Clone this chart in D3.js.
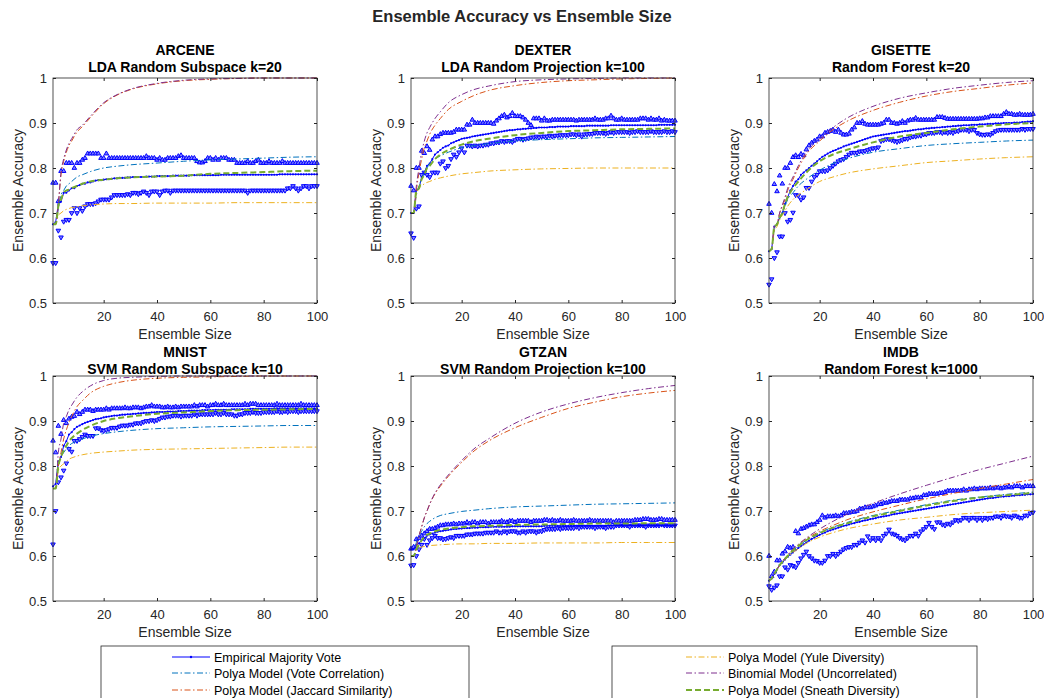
<!doctype html>
<html>
<head>
<meta charset="UTF-8">
<title>Ensemble Accuracy vs Ensemble Size</title>
<script src="https://cdn.jsdelivr.net/npm/d3@7"></script>
<style>
    body { margin: 0; background: #fff; }
    svg text { font-family: "Liberation Sans", Arial, Helvetica, sans-serif; fill: #262626; }
</style>
</head>
<body>
<svg id="fig"></svg>
<script>
// ---- data ----
var datasets = ["ARCENE", "DEXTER", "GISETTE", "MNIST", "GTZAN", "IMDB"];
var methods = ["LDA Random Subspace k=20", "LDA Random Projection k=100", "Random Forest k=20",
               "SVM Random Subspace k=10", "SVM Random Projection k=100", "Random Forest k=1000"];
var xTicks = [20, 40, 60, 80, 100];
var yTicks = [0.5, 0.6, 0.7, 0.8, 0.9, 1];
var legendNames = ["Empirical Majority Vote", "Polya Model (Vote Correlation)", "Polya Model (Jaccard Similarity)",
                   "Polya Model (Yule Diversity)", "Binomial Model (Uncorrelated)", "Polya Model (Sneath Diversity)"];
// ensemble sizes where the model curves were read
var modelX = [1, 2, 3, 4, 5, 6, 7, 8, 10, 12, 15, 20, 25, 30, 40, 50, 60, 70, 80, 90, 100];

// ARCENE
var arceneUpper = [.767,.767,.726,.793,.793,.811,.811,.811,.80,.811,
    .811,.818,.822,.832,.832,.832,.832,.832,.822,.822,
    .832,.822,.822,.822,.822,.822,.822,.822,.822,.822,
    .822,.822,.822,.822,.822,.826,.822,.822,.822,.818,
    .822,.818,.818,.822,.822,.822,.822,.826,.828,.822,
    .822,.822,.822,.822,.815,.812,.812,.815,.822,.822,
    .818,.822,.818,.822,.822,.822,.818,.818,.818,.811,
    .811,.811,.811,.815,.811,.811,.815,.818,.811,.811,
    .811,.815,.811,.811,.811,.811,.815,.811,.811,.811,
    .811,.811,.811,.811,.811,.811,.811,.811,.811,.811];
var arceneMean = [.675,.68,.72,.725,.745,.745,.75,.755,.755,.76,
    .762,.765,.765,.768,.768,.77,.772,.773,.773,.774,
    .775,.775,.776,.777,.777,.778,.778,.778,.779,.779,
    .78,.78,.78,.78,.78,.781,.781,.781,.781,.782,
    .782,.782,.782,.782,.782,.783,.783,.783,.783,.783,
    .783,.783,.784,.784,.784,.784,.784,.784,.784,.784,
    .784,.784,.784,.785,.785,.785,.785,.785,.785,.785,
    .785,.785,.785,.785,.785,.785,.785,.785,.785,.785,
    .785,.785,.785,.785,.785,.786,.786,.786,.786,.786,
    .786,.786,.786,.786,.786,.786,.786,.786,.786,.786];
var arceneLower = [.589,.589,.661,.646,.681,.685,.685,.70,.711,.70,
    .711,.705,.715,.72,.72,.72,.722,.726,.73,.73,
    .73,.73,.735,.74,.74,.74,.74,.74,.742,.74,
    .745,.745,.742,.745,.748,.745,.74,.748,.748,.748,
    .74,.748,.75,.75,.745,.75,.75,.75,.75,.75,
    .75,.75,.75,.75,.75,.75,.75,.75,.75,.75,
    .75,.75,.75,.75,.75,.75,.75,.75,.75,.75,
    .75,.75,.75,.745,.75,.75,.75,.75,.75,.75,
    .75,.75,.75,.75,.75,.75,.75,.75,.755,.755,
    .76,.755,.75,.755,.76,.76,.755,.76,.76,.76];
var arceneVote = [.675,.675,.71,.74,.75,.76,.765,.77,.78,.785,.792,.80,.804,.807,.811,.815,.818,.82,.822,.824,.825];
var arceneJaccard = [.675,.675,.72,.785,.815,.835,.85,.86,.88,.892,.912,.943,.962,.974,.987,.994,.997,.999,1,1,1];
var arceneYule = [.675,.675,.695,.70,.705,.708,.71,.712,.714,.716,.718,.72,.721,.721,.722,.722,.722,.723,.723,.723,.723];
var arceneBinom = [.675,.675,.72,.79,.82,.84,.855,.865,.885,.895,.915,.945,.963,.975,.988,.995,.998,.999,1,1,1];
var arceneSneath = [.675,.675,.715,.73,.745,.75,.752,.755,.76,.765,.77,.774,.777,.779,.781,.783,.787,.789,.791,.793,.794];

// DEXTER
var dexterUpper = [.76,.75,.80,.80,.838,.833,.848,.84,.863,.87,
    .87,.875,.878,.878,.878,.878,.88,.885,.885,.885,
    .885,.896,.896,.907,.90,.90,.90,.90,.90,.90,
    .90,.898,.905,.91,.915,.918,.912,.915,.922,.915,
    .915,.915,.912,.907,.90,.895,.91,.91,.91,.905,
    .91,.905,.905,.907,.907,.907,.907,.907,.907,.907,
    .907,.907,.905,.907,.907,.907,.907,.907,.907,.91,
    .907,.907,.907,.91,.91,.916,.91,.907,.907,.91,
    .907,.907,.907,.907,.907,.907,.91,.91,.91,.907,
    .91,.907,.907,.91,.905,.907,.905,.905,.905,.905];
var dexterMean = [.70,.70,.75,.755,.78,.79,.805,.81,.82,.83,
    .835,.84,.845,.848,.85,.855,.857,.86,.862,.865,
    .866,.867,.868,.87,.871,.872,.873,.874,.875,.876,
    .877,.878,.879,.88,.881,.882,.883,.884,.884,.885,
    .886,.886,.887,.887,.888,.888,.889,.889,.89,.89,
    .89,.89,.891,.891,.891,.892,.892,.892,.892,.892,
    .893,.893,.893,.893,.893,.893,.894,.894,.894,.894,
    .894,.894,.894,.894,.894,.895,.895,.895,.895,.895,
    .895,.895,.895,.895,.895,.895,.895,.895,.895,.895,
    .895,.895,.895,.896,.896,.896,.896,.896,.896,.896];
var dexterLower = [.655,.645,.71,.715,.785,.79,.785,.78,.79,.79,
    .79,.81,.815,.80,.805,.82,.83,.825,.835,.844,
    .835,.85,.85,.848,.85,.848,.85,.85,.852,.852,
    .855,.855,.857,.857,.86,.858,.86,.86,.858,.862,
    .865,.865,.863,.865,.866,.868,.868,.87,.868,.87,
    .87,.87,.872,.87,.872,.872,.873,.873,.873,.873,
    .875,.875,.873,.875,.87,.875,.875,.876,.876,.878,
    .878,.878,.878,.876,.878,.88,.878,.88,.88,.88,
    .88,.88,.878,.88,.88,.882,.88,.88,.88,.88,
    .882,.88,.88,.88,.88,.882,.88,.88,.882,.88];
var dexterVote = [.70,.70,.74,.76,.775,.79,.80,.81,.82,.827,.835,.845,.85,.854,.86,.863,.865,.867,.868,.869,.87];
var dexterJaccard = [.70,.70,.75,.79,.82,.845,.86,.875,.895,.91,.93,.948,.962,.972,.983,.99,.994,.996,.998,.999,1];
var dexterYule = [.70,.70,.74,.755,.76,.765,.768,.77,.775,.778,.782,.787,.79,.793,.796,.798,.799,.80,.80,.80,.80];
var dexterBinom = [.70,.70,.76,.80,.835,.86,.878,.89,.91,.925,.945,.963,.975,.982,.992,.996,.998,.999,1,1,1];
var dexterSneath = [.70,.70,.75,.755,.775,.785,.80,.805,.82,.83,.84,.852,.86,.865,.873,.878,.882,.884,.886,.887,.888];

// GISETTE
var gisetteUpper = [.72,.70,.764,.748,.783,.765,.80,.80,.811,.824,
    .828,.824,.831,.828,.841,.85,.856,.86,.863,.87,
    .87,.878,.88,.882,.885,.88,.885,.878,.874,.874,
    .876,.885,.89,.90,.90,.904,.898,.896,.896,.896,
    .896,.896,.898,.90,.907,.907,.90,.90,.898,.90,
    .904,.90,.905,.907,.907,.911,.907,.907,.907,.907,
    .907,.907,.907,.913,.913,.913,.911,.909,.909,.909,
    .909,.909,.909,.909,.909,.909,.909,.909,.909,.91,
    .91,.912,.912,.915,.915,.915,.915,.915,.92,.924,
    .92,.92,.918,.918,.92,.918,.918,.918,.918,.92];
var gisetteMean = [.615,.62,.67,.675,.69,.70,.72,.735,.75,.76,
    .77,.775,.785,.79,.795,.80,.805,.81,.815,.82,
    .825,.828,.832,.835,.838,.84,.843,.845,.848,.85,
    .852,.854,.856,.858,.86,.862,.864,.866,.868,.87,
    .871,.872,.873,.874,.875,.876,.877,.878,.879,.88,
    .881,.882,.882,.883,.884,.885,.886,.886,.887,.888,
    .888,.889,.889,.89,.89,.891,.891,.892,.892,.893,
    .893,.894,.894,.895,.895,.895,.896,.896,.896,.897,
    .897,.897,.898,.898,.898,.899,.899,.899,.90,.90,
    .90,.90,.901,.901,.901,.902,.902,.903,.903,.904];
var gisetteLower = [.541,.553,.60,.613,.648,.648,.70,.681,.685,.701,
    .74,.739,.73,.735,.756,.756,.77,.78,.785,.793,
    .793,.793,.795,.80,.805,.81,.815,.818,.82,.825,
    .83,.834,.834,.834,.837,.837,.838,.84,.842,.844,
    .844,.846,.86,.862,.864,.864,.862,.86,.858,.86,
    .862,.865,.865,.868,.87,.87,.872,.872,.875,.875,
    .878,.878,.878,.88,.88,.878,.88,.878,.88,.878,
    .882,.882,.885,.885,.885,.882,.885,.885,.878,.875,
    .874,.874,.875,.874,.878,.882,.884,.885,.885,.885,
    .885,.885,.885,.885,.885,.887,.885,.887,.887,.887];
var gisetteVote = [.615,.62,.665,.675,.69,.70,.715,.73,.745,.76,.775,.795,.81,.82,.835,.843,.85,.854,.857,.86,.862];
var gisetteJaccard = [.615,.62,.67,.675,.70,.715,.73,.75,.775,.80,.83,.86,.885,.903,.928,.946,.96,.97,.977,.984,.989];
var gisetteYule = [.615,.62,.66,.67,.685,.695,.705,.715,.73,.74,.752,.77,.78,.788,.798,.805,.812,.816,.82,.823,.825];
var gisetteBinom = [.615,.62,.67,.675,.70,.718,.735,.755,.78,.805,.835,.865,.89,.91,.937,.955,.967,.977,.984,.99,.994];
var gisetteSneath = [.615,.62,.67,.675,.69,.70,.72,.735,.755,.77,.79,.815,.83,.84,.857,.87,.878,.886,.892,.897,.90];

// MNIST
var mnistUpper = [.856,.83,.889,.871,.902,.895,.905,.909,.911,.92,
    .915,.92,.925,.925,.925,.922,.925,.925,.925,.925,
    .928,.925,.928,.928,.928,.928,.928,.93,.928,.928,
    .93,.93,.93,.928,.93,.932,.932,.935,.932,.932,
    .932,.93,.93,.932,.93,.93,.932,.93,.932,.932,
    .932,.932,.932,.935,.932,.935,.935,.935,.932,.935,
    .935,.938,.935,.935,.938,.935,.935,.935,.935,.935,
    .935,.935,.938,.935,.938,.938,.938,.935,.935,.935,
    .935,.935,.935,.935,.938,.935,.935,.935,.935,.935,
    .935,.935,.935,.938,.935,.935,.935,.935,.935,.935];
var mnistMean = [.755,.76,.81,.82,.845,.855,.87,.875,.882,.887,
    .89,.893,.896,.898,.90,.902,.904,.905,.906,.908,
    .909,.91,.911,.912,.912,.913,.914,.914,.915,.915,
    .916,.916,.917,.917,.918,.918,.918,.919,.919,.92,
    .92,.92,.92,.921,.921,.921,.921,.922,.922,.922,
    .922,.923,.923,.923,.923,.923,.924,.924,.924,.924,
    .924,.925,.925,.925,.925,.925,.925,.926,.926,.926,
    .926,.926,.926,.926,.927,.927,.927,.927,.927,.927,
    .927,.927,.927,.928,.928,.928,.928,.928,.928,.928,
    .928,.928,.928,.928,.928,.928,.928,.928,.928,.928];
var mnistLower = [.626,.70,.764,.775,.79,.806,.838,.832,.856,.856,
    .86,.865,.87,.867,.867,.867,.884,.884,.88,.878,
    .88,.882,.885,.885,.885,.888,.89,.89,.89,.892,
    .892,.895,.895,.895,.898,.90,.90,.902,.90,.902,
    .905,.908,.908,.91,.91,.912,.912,.912,.91,.912,
    .912,.912,.912,.915,.912,.915,.915,.915,.915,.915,
    .915,.918,.915,.915,.918,.915,.915,.915,.912,.912,
    .915,.915,.918,.918,.918,.92,.918,.918,.918,.92,
    .92,.92,.92,.92,.922,.92,.92,.922,.92,.922,
    .922,.922,.92,.922,.922,.922,.922,.922,.922,.922];
var mnistVote = [.75,.75,.80,.82,.83,.838,.845,.85,.855,.86,.866,.872,.876,.879,.883,.885,.887,.888,.889,.89,.89];
var mnistJaccard = [.75,.75,.80,.83,.86,.88,.897,.91,.932,.945,.962,.977,.985,.99,.995,.997,.998,.999,1,1,1];
var mnistYule = [.75,.75,.79,.80,.805,.81,.815,.818,.822,.825,.828,.831,.833,.835,.837,.838,.839,.84,.841,.842,.842];
var mnistBinom = [.75,.75,.83,.86,.895,.91,.925,.935,.953,.965,.978,.99,.995,.997,.999,1,1,1,1,1,1];
var mnistSneath = [.75,.75,.80,.82,.835,.845,.855,.862,.872,.88,.889,.90,.906,.91,.916,.919,.922,.924,.925,.926,.927];

// GTZAN
var gtzanUpper = [.616,.62,.637,.64,.645,.65,.655,.66,.66,.662,
    .665,.668,.668,.67,.67,.67,.672,.67,.672,.672,
    .672,.675,.672,.675,.675,.672,.675,.675,.675,.672,
    .675,.675,.675,.675,.678,.675,.675,.678,.678,.675,
    .678,.678,.678,.678,.678,.675,.678,.678,.678,.678,
    .68,.68,.678,.68,.678,.678,.68,.678,.678,.678,
    .678,.68,.678,.678,.678,.678,.678,.68,.678,.678,
    .678,.678,.678,.678,.678,.678,.675,.678,.678,.678,
    .678,.678,.678,.678,.68,.68,.68,.682,.682,.682,
    .68,.68,.68,.682,.682,.68,.68,.68,.68,.68];
var gtzanMean = [.615,.615,.625,.628,.635,.64,.645,.648,.65,.652,
    .654,.655,.656,.657,.658,.659,.66,.66,.661,.661,
    .662,.662,.662,.663,.663,.663,.664,.664,.664,.664,
    .665,.665,.665,.665,.665,.665,.665,.665,.666,.666,
    .666,.666,.666,.666,.666,.666,.666,.666,.666,.666,
    .667,.667,.667,.667,.667,.667,.667,.667,.667,.667,
    .667,.667,.667,.667,.667,.667,.667,.667,.667,.667,
    .667,.667,.667,.667,.668,.668,.668,.668,.668,.668,
    .668,.668,.668,.668,.668,.668,.668,.668,.668,.668,
    .668,.668,.668,.668,.668,.668,.668,.668,.668,.668];
var gtzanLower = [.579,.58,.60,.615,.625,.638,.625,.635,.64,.645,
    .64,.64,.637,.638,.64,.642,.64,.645,.645,.645,
    .645,.648,.648,.648,.65,.65,.65,.65,.652,.652,
    .652,.652,.655,.652,.652,.655,.652,.655,.655,.655,
    .652,.652,.655,.652,.655,.655,.655,.652,.655,.655,
    .658,.66,.66,.66,.66,.662,.66,.662,.662,.662,
    .662,.662,.665,.662,.665,.665,.665,.665,.665,.662,
    .665,.665,.665,.662,.665,.665,.665,.668,.668,.668,
    .668,.668,.665,.668,.668,.668,.668,.668,.665,.668,
    .668,.668,.668,.668,.67,.668,.668,.668,.668,.668];
var gtzanVote = [.60,.60,.63,.645,.655,.665,.672,.677,.685,.69,.694,.699,.702,.705,.709,.711,.713,.715,.716,.717,.718];
var gtzanJaccard = [.60,.60,.62,.645,.665,.685,.70,.715,.738,.755,.777,.808,.835,.855,.885,.908,.928,.942,.954,.962,.968];
var gtzanYule = [.60,.60,.612,.617,.62,.621,.622,.623,.624,.625,.626,.627,.627,.628,.628,.629,.629,.629,.63,.63,.63];
var gtzanBinom = [.60,.60,.62,.645,.665,.685,.70,.715,.74,.758,.78,.812,.84,.86,.895,.92,.938,.952,.963,.972,.979];
var gtzanSneath = [.60,.60,.615,.625,.635,.642,.647,.65,.655,.658,.661,.664,.666,.667,.669,.67,.671,.672,.672,.673,.673];

// IMDB
var imdbUpper = [.60,.555,.565,.59,.59,.605,.61,.62,.618,.62,
    .655,.65,.66,.662,.665,.668,.67,.67,.675,.68,
    .69,.685,.688,.688,.688,.69,.688,.69,.695,.695,
    .696,.698,.698,.70,.705,.705,.708,.708,.708,.71,
    .712,.715,.715,.718,.718,.72,.722,.722,.722,.725,
    .725,.725,.725,.728,.728,.73,.73,.73,.735,.735,
    .738,.738,.738,.738,.74,.74,.742,.745,.745,.745,
    .745,.745,.745,.748,.745,.748,.748,.75,.748,.75,
    .75,.75,.75,.752,.75,.752,.752,.75,.752,.752,
    .755,.752,.755,.755,.755,.752,.755,.755,.755,.755];
var imdbMean = [.545,.55,.56,.57,.58,.585,.592,.598,.603,.608,
    .613,.618,.622,.626,.63,.634,.638,.641,.644,.647,
    .65,.652,.655,.657,.659,.661,.663,.665,.667,.668,
    .67,.672,.673,.675,.676,.678,.679,.68,.682,.683,
    .684,.686,.687,.688,.689,.69,.692,.693,.694,.695,
    .696,.697,.698,.699,.70,.701,.702,.703,.704,.705,
    .706,.707,.708,.709,.71,.711,.712,.713,.714,.715,
    .716,.717,.718,.719,.72,.721,.722,.723,.724,.725,
    .726,.727,.728,.729,.729,.73,.731,.732,.732,.733,
    .733,.734,.734,.735,.735,.736,.736,.737,.737,.738];
var imdbLower = [.533,.525,.53,.535,.555,.555,.575,.57,.58,.578,
    .575,.585,.595,.603,.61,.60,.595,.59,.589,.585,
    .585,.59,.60,.60,.605,.60,.605,.61,.615,.618,
    .62,.62,.625,.625,.63,.635,.63,.644,.635,.64,
    .635,.64,.635,.645,.65,.659,.65,.648,.645,.64,
    .637,.635,.64,.645,.645,.65,.645,.655,.66,.665,
    .674,.665,.66,.675,.675,.67,.668,.672,.67,.675,
    .68,.678,.68,.685,.685,.68,.685,.685,.68,.685,
    .68,.685,.682,.685,.685,.688,.688,.685,.69,.688,
    .688,.685,.69,.688,.685,.685,.69,.69,.695,.697];
var imdbVote = [.545,.55,.56,.57,.58,.587,.594,.60,.612,.622,.635,.652,.664,.674,.69,.702,.714,.724,.731,.737,.742];
var imdbJaccard = [.545,.55,.56,.57,.58,.588,.595,.602,.615,.625,.638,.655,.668,.68,.698,.713,.727,.739,.75,.76,.77];
var imdbYule = [.545,.55,.56,.57,.578,.585,.592,.598,.608,.616,.628,.642,.652,.66,.671,.68,.686,.692,.696,.699,.702];
var imdbBinom = [.545,.55,.56,.57,.58,.588,.595,.602,.615,.626,.64,.66,.677,.692,.717,.738,.757,.775,.792,.807,.822];
var imdbSneath = [.545,.55,.56,.57,.58,.587,.594,.60,.612,.622,.635,.651,.663,.672,.688,.70,.712,.722,.73,.735,.74];

// ---- assemble per panel ----
var panels = [
    {up: arceneUpper, mean: arceneMean, lo: arceneLower, models: [arceneVote, arceneJaccard, arceneYule, arceneBinom, arceneSneath]},
    {up: dexterUpper, mean: dexterMean, lo: dexterLower, models: [dexterVote, dexterJaccard, dexterYule, dexterBinom, dexterSneath]},
    {up: gisetteUpper, mean: gisetteMean, lo: gisetteLower, models: [gisetteVote, gisetteJaccard, gisetteYule, gisetteBinom, gisetteSneath]},
    {up: mnistUpper, mean: mnistMean, lo: mnistLower, models: [mnistVote, mnistJaccard, mnistYule, mnistBinom, mnistSneath]},
    {up: gtzanUpper, mean: gtzanMean, lo: gtzanLower, models: [gtzanVote, gtzanJaccard, gtzanYule, gtzanBinom, gtzanSneath]},
    {up: imdbUpper, mean: imdbMean, lo: imdbLower, models: [imdbVote, imdbJaccard, imdbYule, imdbBinom, imdbSneath]}
];

// ---- layout / style ----
var W = 1044, H = 698;
var colLeft = [53, 411, 769], rowTop = [78, 376];
var pw = 264, ph = 225;
var axisColor = "#262626";
var empColor = "#0000ff";
var modelColors = ["#0072BD", "#D95319", "#EDB120", "#7E2F8E", "#77AC30"];
var dashDot = "6,2.5,1.5,2.5";

var svg = d3.select("#fig").attr("width", W).attr("height", H);

svg.append("text")
   .attr("x", W / 2).attr("y", 22)
   .attr("text-anchor", "middle")
   .style("font-size", "16.5px").style("font-weight", "bold")
   .text("Ensemble Accuracy vs Ensemble Size");

var x = d3.scaleLinear().domain([1, 100]).range([0, pw]);
var y = d3.scaleLinear().domain([0.5, 1]).range([ph, 0]);
var idx = d3.range(1, 101);

var triUp = d3.symbol().type(d3.symbolTriangle).size(9);

panels.forEach(function(p, i) {
    var left = colLeft[i % 3], top = rowTop[Math.floor(i / 3)];
    var g = svg.append("g").attr("transform", "translate(" + left + "," + top + ")");

    // titles
    g.append("text").attr("x", pw / 2).attr("y", i < 3 ? -23 : -19).attr("text-anchor", "middle")
     .style("font-size", "14px").style("font-weight", "bold").style("fill", "#000").text(datasets[i]);
    g.append("text").attr("x", pw / 2).attr("y", i < 3 ? -6 : -2).attr("text-anchor", "middle")
     .style("font-size", "14px").style("font-weight", "bold").style("fill", "#000").text(methods[i]);

    var clipId = "clip" + i;
    g.append("clipPath").attr("id", clipId).append("rect")
     .attr("x", -4).attr("y", -4).attr("width", pw + 8).attr("height", ph + 8);
    var plot = g.append("g").attr("clip-path", "url(#" + clipId + ")");

    // upper band markers
    plot.selectAll(".up").data(p.up).enter().append("path")
        .attr("d", triUp)
        .attr("transform", function(d, j) { return "translate(" + x(idx[j]) + "," + y(d) + ")"; })
        .attr("fill", "#8080ff").attr("stroke", empColor).attr("stroke-width", 1);
    // lower band markers
    plot.selectAll(".lo").data(p.lo).enter().append("path")
        .attr("d", triUp)
        .attr("transform", function(d, j) { return "translate(" + x(idx[j]) + "," + y(d) + ") rotate(180)"; })
        .attr("fill", "#8080ff").attr("stroke", empColor).attr("stroke-width", 1);

    // empirical majority vote
    var meanLine = d3.line().x(function(d, j) { return x(idx[j]); }).y(function(d) { return y(d); });
    plot.append("path").datum(p.mean).attr("d", meanLine)
        .attr("fill", "none").attr("stroke", empColor).attr("stroke-width", 1);
    plot.selectAll(".dot").data(p.mean).enter().append("circle")
        .attr("cx", function(d, j) { return x(idx[j]); }).attr("cy", function(d) { return y(d); })
        .attr("r", 1.1).attr("fill", empColor);

    // model curves
    var modelLine = d3.line().curve(d3.curveMonotoneX)
        .x(function(d, j) { return x(modelX[j]); }).y(function(d) { return y(d); });
    p.models.forEach(function(m, k) {
        var sneath = (k === 4);
        plot.append("path").datum(m).attr("d", modelLine)
            .attr("fill", "none").attr("stroke", modelColors[k])
            .attr("stroke-width", sneath ? 2 : 1)
            .attr("stroke-dasharray", sneath ? "6,3" : dashDot);
    });

    // axes (ticks inward on all four sides, MATLAB box)
    var ax = function(sel) { sel.select(".domain").remove(); sel.selectAll("line").attr("stroke", axisColor); sel.selectAll("text").style("font-size", "13px").style("fill", axisColor).style("font-family", "'Liberation Sans', Arial, sans-serif"); };
    g.append("g").attr("transform", "translate(0," + ph + ")")
     .call(d3.axisBottom(x).tickValues(xTicks).tickSize(-3).tickPadding(9)).call(ax);
    g.append("g").call(d3.axisTop(x).tickValues(xTicks).tickSize(-3).tickFormat("")).call(ax);
    g.append("g").call(d3.axisLeft(y).tickValues(yTicks).tickSize(-3).tickPadding(6).tickFormat(d3.format("~g"))).call(ax);
    g.append("g").attr("transform", "translate(" + pw + ",0)")
     .call(d3.axisRight(y).tickValues(yTicks).tickSize(-3).tickFormat("")).call(ax);
    g.append("rect").attr("width", pw).attr("height", ph)
     .attr("fill", "none").attr("stroke", axisColor).attr("stroke-width", 0.8);

    // axis labels
    g.append("text").attr("x", pw / 2).attr("y", ph + 36).attr("text-anchor", "middle")
     .style("font-size", "14px").text("Ensemble Size");
    g.append("text").attr("transform", "translate(-30," + (ph / 2) + ") rotate(-90)")
     .attr("text-anchor", "middle").style("font-size", "14px").text("Ensemble Accuracy");
});

// ---- legends (two boxes, cut by the bottom edge) ----
var legendBoxes = [{x: 101, w: 368, items: [0, 1, 2], sx: 71}, {x: 612, w: 365, items: [3, 4, 5], sx: 74}];
var legendRows = [657, 673, 690];
legendBoxes.forEach(function(b) {
    var lg = svg.append("g").attr("transform", "translate(" + b.x + ",646)");
    lg.append("rect").attr("width", b.w).attr("height", 70)
      .attr("fill", "#fff").attr("stroke", axisColor).attr("stroke-width", 0.8);
    b.items.forEach(function(it, r) {
        var yy = legendRows[r] - 646;
        var line = lg.append("line").attr("x1", b.sx).attr("x2", b.sx + 38).attr("y1", yy).attr("y2", yy);
        if (it === 0) {
            line.attr("stroke", empColor).attr("stroke-width", 1);
            lg.append("circle").attr("cx", b.sx + 19).attr("cy", yy).attr("r", 1.2).attr("fill", empColor);
        } else {
            var k = it - 1;
            line.attr("stroke", modelColors[k]).attr("stroke-width", k === 4 ? 2 : 1)
                .attr("stroke-dasharray", k === 4 ? "6,3" : dashDot);
        }
        lg.append("text").attr("x", b.sx + 42).attr("y", yy + 4.5)
          .style("font-size", "12.5px").style("fill", "#000").text(legendNames[it]);
    });
});
</script>
</body>
</html>
